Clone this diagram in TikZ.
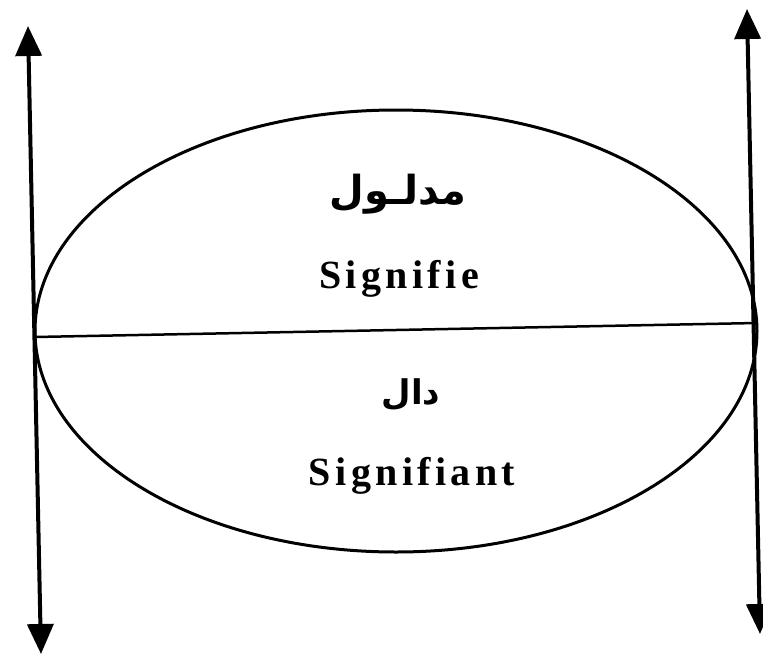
\documentclass[tikz,border=0pt]{standalone}
\usepackage{fontspec}
\setmainfont{Liberation Serif}
\newfontfamily\arabicfont[Script=Arabic]{DejaVu Sans Bold}
\newfontfamily\latinlbl[LetterSpace=11]{Liberation Serif Bold}
\TeXXeTstate=1
\usetikzlibrary{shapes.geometric,arrows.meta}
\tikzset{
  dblarrow/.style={line width=4pt,{Triangle[width=26pt,length=30pt]}-{Triangle[width=26pt,length=30pt]}},
  oval/.style={draw,ellipse,line width=3pt,inner sep=0pt},
  divider/.style={line width=2.5pt},
  arlbl/.style={font=\arabicfont\fontsize{40}{42}\selectfont,inner sep=0pt},
  ltlbl/.style={font=\latinlbl\fontsize{40}{42}\selectfont,inner sep=0pt}
}
\begin{document}
\begin{tikzpicture}[x=1pt,y=-1pt]
\useasboundingbox (0,0) rectangle (763,656);
\node[oval,minimum width=722pt,minimum height=442pt] (ell) at (396,331) {};
\coordinate (lw) at (35,337);
\coordinate (re) at (757,323);
\draw[divider] (lw) -- (re);
\coordinate (lt) at (28,26);
\coordinate (lb) at (41,654);
\coordinate (rt) at (747,9);
\coordinate (rb) at (760,634);
\draw[dblarrow] (lb) -- (lt);
\draw[dblarrow] (rb) -- (rt);
\node[arlbl] (madlul) at (398,194) {\beginR مدلـول\endR};
\node[ltlbl] (signifie) at (399,279) {Signifie};
\node[arlbl,font=\arabicfont\fontsize{34}{36}\selectfont] (dal) at (411,395) {\beginR دال\endR};
\node[ltlbl] (signifiant) at (412,476) {Signifiant};
\end{tikzpicture}
\end{document}
